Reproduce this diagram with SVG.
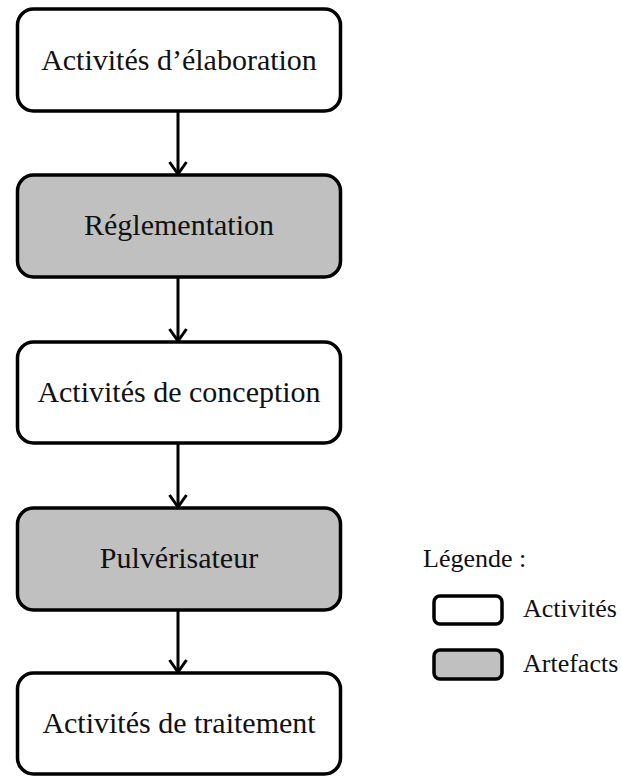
<svg xmlns="http://www.w3.org/2000/svg" width="621" height="776" viewBox="0 0 621 776">
<style>
.box{stroke:#000;stroke-width:3.5;}
.act{fill:#fff;}
.art{fill:#c0c0c0;}
.lbl{font-family:"Liberation Serif","Times New Roman",serif;font-size:30px;fill:#111;text-anchor:middle;}
.leg{font-family:"Liberation Serif","Times New Roman",serif;font-size:26px;fill:#111;}
.conn{stroke:#000;stroke-width:3;fill:none;}
</style>
<defs>
<marker id="ah" viewBox="0 0 20 20" refX="18" refY="10" markerWidth="20" markerHeight="20" markerUnits="userSpaceOnUse" orient="auto">
<path d="M6,1.5 L18,10 L6,18.5" fill="none" stroke="#000" stroke-width="3"/>
</marker>
</defs>
<rect width="621" height="776" fill="#fff"/>
<g id="connectors">
<line class="conn" x1="178" y1="111" x2="178" y2="174" marker-end="url(#ah)"/>
<line class="conn" x1="178" y1="277" x2="178" y2="341" marker-end="url(#ah)"/>
<line class="conn" x1="178" y1="443" x2="178" y2="507" marker-end="url(#ah)"/>
<line class="conn" x1="178" y1="610" x2="178" y2="672" marker-end="url(#ah)"/>
</g>
<g id="n1">
<rect class="box act" x="17.5" y="9" width="323" height="102" rx="16"/>
<text class="lbl" x="179" y="70">Activités d’élaboration</text>
</g>
<g id="n2">
<rect class="box art" x="17.5" y="175" width="323" height="102" rx="16"/>
<text class="lbl" x="179" y="235">Réglementation</text>
</g>
<g id="n3">
<rect class="box act" x="17.5" y="342" width="323" height="101" rx="16"/>
<text class="lbl" x="179" y="402">Activités de conception</text>
</g>
<g id="n4">
<rect class="box art" x="17.5" y="508" width="323" height="102" rx="16"/>
<text class="lbl" x="179" y="568">Pulvérisateur</text>
</g>
<g id="n5">
<rect class="box act" x="17.5" y="673" width="323" height="101" rx="16"/>
<text class="lbl" x="179" y="733">Activités de traitement</text>
</g>
<g id="legend">
<text class="leg" x="423" y="567">Légende :</text>
<rect class="box act" x="434" y="596" width="68" height="28" rx="6"/>
<text class="leg" x="523" y="617">Activités</text>
<rect class="box art" x="434" y="650" width="68" height="29" rx="6"/>
<text class="leg" x="523" y="672">Artefacts</text>
</g>
</svg>
